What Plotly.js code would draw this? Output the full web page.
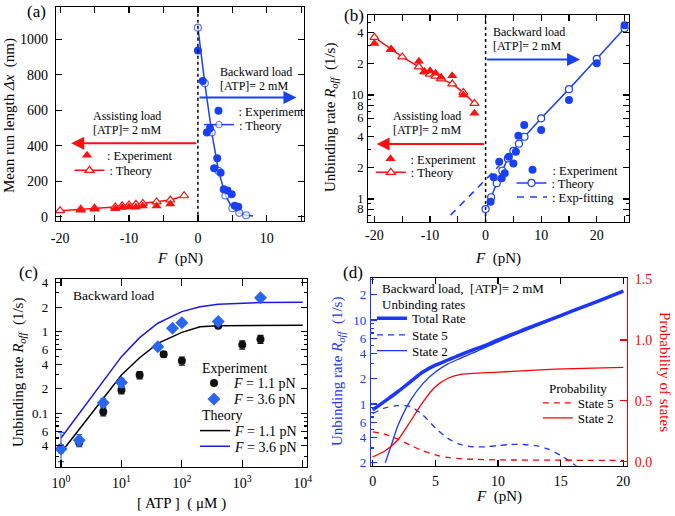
<!DOCTYPE html>
<html><head><meta charset="utf-8">
<script src="https://cdn.plot.ly/plotly-3.0.1.min.js"></script>
<style>html,body{margin:0;padding:0;background:#fff}#chart{width:675px;height:516px}</style>
</head><body><div id="chart"></div>
<script>
// ---------- Panel (a): mean run length vs F ----------
const a_bw_exp_F = [0, 0.7, 1.3, 1.75, 2.35, 2.8, 3.3, 3.75, 4.3, 4.9, 5.35, 5.85];
const a_bw_exp_L = [936, 765, 474, 498, 273, 329, 248, 155, 147, 126, 62, 56];
const a_bw_th_F = [0, 1, 2, 3, 4, 5, 6, 7, 8];
const a_bw_th_L = [1065, 752, 475, 258, 120, 48, 22, 8, 4];
const a_as_th_F = [-20, -17, -15, -12, -11, -10, -9, -8, -6, -4, -2];
const a_as_th_L = [34, 42, 47, 55, 62, 66, 70, 75, 83, 94, 118];
const a_as_exp_F = [-17, -15, -12, -11, -10, -9, -8, -6, -4];
const a_as_exp_L = [36, 42, 45, 52, 55, 53, 60, 60, 72];

// ---------- Panel (b): unbinding rate vs F ----------
const b_bw_th_F = [0, 1, 2, 3, 4, 5, 6, 7, 10, 15, 20, 25];
const b_bw_th_R = [0.80, 1.04, 1.42, 1.87, 2.46, 2.91, 3.4, 3.97, 5.97, 11.4, 22.3, 43.8];
const b_bw_exp_F = [0.9, 1.45, 2.45, 2.9, 3.45, 4.2, 5.0, 5.45, 5.9, 6.95, 10, 15, 20, 25];
const b_bw_exp_R = [0.94, 1.62, 2.28, 1.58, 1.77, 2.55, 2.2, 2.85, 4.06, 5.15, 4.6, 8.95, 20.2, 47];
const b_fit_F = [-6.3, 2.5];
const b_fit_R = [0.70, 2.1];
const b_as_th_F = [-20, -17, -15, -12, -11, -10, -9, -8, -6, -4, -2];
const b_as_th_R = [35.9, 27.5, 23.3, 18.7, 16.7, 15.9, 15.2, 14.3, 12.8, 10.6, 8.3];
const b_as_exp_F = [-20, -17, -12, -11, -10, -9, -8, -6, -4, -2];
const b_as_exp_R = [31.4, 27.5, 21.2, 16.8, 17.1, 16.2, 14.8, 15.3, 10, 6.7];

// ---------- Panel (c): unbinding rate vs [ATP] ----------
const c_exp1_atp = [1, 2, 5, 10, 20, 50, 100, 400, 1000, 2000];
const c_exp1_R   = [0.037, 0.044, 0.105, 0.193, 0.295, 0.53, 0.44, 1.18, 0.69, 0.81];
const c_exp1_err = [0.004, 0.005, 0.012, 0.02, 0.03, 0.04, 0.05, 0.07, 0.08, 0.09];
const c_exp2_atp = [1, 2, 5, 10, 40, 70, 100, 400, 2000];
const c_exp2_R   = [0.0366, 0.047, 0.135, 0.238, 0.656, 1.10, 1.29, 1.33, 2.61];
const c_exp2_errP = [0.022, 0.008, 0.016, 0.03, 0.04, 0.06, 0.06, 0.1, 0.2];
const c_exp2_errM = [0.011, 0.007, 0.014, 0.03, 0.04, 0.06, 0.06, 0.1, 0.2];
const c_th_atp = [1, 2, 5, 10, 20, 40, 100, 200, 400, 1000, 2000, 10000];
const c_th1_R  = [0.033, 0.064, 0.156, 0.295, 0.48, 0.72, 0.98, 1.15, 1.18, 1.19, 1.2, 1.2];
const c_th2_R  = [0.050, 0.10, 0.25, 0.495, 0.845, 1.27, 1.76, 2.02, 2.16, 2.24, 2.27, 2.29];

// ---------- Panel (d): rates and state probabilities vs F ----------
const d_total_F = [0, 1, 2, 3, 4, 5, 6, 7, 8, 9, 10, 12, 14, 16, 18, 20];
const d_total_R = [0.85, 1.09, 1.4, 1.84, 2.4, 2.9, 3.34, 3.85, 4.4, 5.0, 5.8, 7.6, 9.9, 12.9, 16.8, 22];
const d_s2_F = [1, 1.5, 2, 3, 4, 5, 6, 7, 8, 10, 12, 14, 16, 18, 20];
const d_s2_R = [0.2, 0.33, 0.55, 1.1, 1.75, 2.4, 3.0, 3.5, 4.05, 5.5, 7.3, 9.6, 12.7, 16.8, 22];
const d_s5_F = [0, 1, 2, 3, 4, 5, 6, 7, 8, 9, 10, 11, 12, 13, 14, 15, 16, 17];
const d_s5_R = [0.77, 0.90, 0.955, 0.93, 0.74, 0.52, 0.39, 0.33, 0.31, 0.31, 0.32, 0.33, 0.33, 0.32, 0.29, 0.245, 0.195, 0.15];
const d_p2_F = [0, 1, 2, 3, 4, 5, 6, 7, 8, 10, 13, 16, 20];
const d_p2   = [0.04, 0.09, 0.178, 0.33, 0.49, 0.616, 0.685, 0.717, 0.725, 0.735, 0.752, 0.765, 0.775];
const d_p5_F = [0, 1, 2, 3, 4, 5, 6, 7, 8, 10, 15, 20];
const d_p5   = [0.245, 0.225, 0.185, 0.135, 0.09, 0.055, 0.035, 0.025, 0.02, 0.015, 0.012, 0.01];

// ---------- styling / layout ----------
const W = 675, H = 516;
const X = p => p / W, Y = p => 1 - p / H;
const FONT = 'Liberation Serif';
const BLUE = '#1a40f5', RED = '#ff1010', CBLUE = '#2a66f2', DBLUE = '#1a36ff', DRED = '#ff0000';

const traces = [];
// legend helper: one legend per entry, placed by symbol centre / text start / row centre
const legends = {};
let legN = 1;
function legFor(sc, ts, py, size) {
  const key = legN === 1 ? 'legend' : 'legend' + legN;
  legN++;
  const left = ((sc - 20) + (ts - 40)) / 2;
  legends[key] = {x: X(left), y: Y(py), xanchor: 'left', yanchor: 'middle', bgcolor: 'rgba(0,0,0,0)',
    borderwidth: 0, font: {family: FONT, size: size, color: 'black'}, itemwidth: 30, tracegroupgap: 0};
  return key;
}

// Panel (a)
traces.push({x: a_bw_th_F, y: a_bw_th_L, xaxis: 'x', yaxis: 'y', mode: 'lines+markers', name: ': Theory',
  line: {color: BLUE, width: 1.5}, marker: {symbol: 'circle', size: a_bw_th_F.map((f, i) => i < a_bw_th_F.length - 1 ? 7 : 0), color: 'white', line: {color: BLUE, width: 1.2}},
  legend: legFor(223, 235, 125, 12.5)});
traces.push({x: a_bw_exp_F, y: a_bw_exp_L, xaxis: 'x', yaxis: 'y', mode: 'markers', name: ': Experiment',
  marker: {symbol: 'circle', size: 8, color: BLUE}, legend: legFor(224, 233, 111, 12.5)});
traces.push({x: a_as_th_F, y: a_as_th_L, xaxis: 'x', yaxis: 'y', mode: 'lines+markers', name: ': Theory',
  line: {color: RED, width: 1.5}, marker: {symbol: 'triangle-up', size: 8, color: 'white', line: {color: RED, width: 1.2}},
  legend: legFor(93, 106, 170.7, 12.5)});
traces.push({x: a_as_exp_F, y: a_as_exp_L, xaxis: 'x', yaxis: 'y', mode: 'markers', name: ': Experiment',
  marker: {symbol: 'triangle-up', size: 9, color: RED}, legend: legFor(94, 100, 155.7, 12.5)});

// Panel (b)
traces.push({x: b_fit_F, y: b_fit_R, xaxis: 'x2', yaxis: 'y2', mode: 'lines', name: ': Exp-fitting',
  line: {color: BLUE, width: 1.5, dash: '7px,6px'}, legend: legFor(536, 548, 197.3, 12.5)});
traces.push({x: b_bw_th_F, y: b_bw_th_R, xaxis: 'x2', yaxis: 'y2', mode: 'lines+markers', name: ': Theory',
  line: {color: BLUE, width: 1.5}, marker: {symbol: 'circle', size: 7, color: 'white', line: {color: BLUE, width: 1.2}},
  legend: legFor(535, 548, 183.3, 12.5)});
traces.push({x: b_bw_exp_F, y: b_bw_exp_R, xaxis: 'x2', yaxis: 'y2', mode: 'markers', name: ': Experiment',
  marker: {symbol: 'circle', size: 8, color: BLUE}, legend: legFor(536.7, 548.3, 170, 12.5)});
traces.push({x: b_as_th_F, y: b_as_th_R, xaxis: 'x2', yaxis: 'y2', mode: 'lines+markers', name: ': Theory',
  line: {color: RED, width: 1.5}, marker: {symbol: 'triangle-up', size: 8, color: 'white', line: {color: RED, width: 1.2}},
  legend: legFor(395, 406.7, 172.7, 12.5)});
traces.push({x: b_as_exp_F, y: b_as_exp_R, xaxis: 'x2', yaxis: 'y2', mode: 'markers', name: ': Experiment',
  marker: {symbol: 'triangle-up', size: 9, color: RED}, legend: legFor(394.3, 406.7, 159, 12.5)});

// Panel (c)
traces.push({x: c_th_atp, y: c_th1_R, xaxis: 'x3', yaxis: 'y3', mode: 'lines', name: '<i>F</i> = 1.1 pN',
  line: {color: 'black', width: 1.5}, legend: legFor(217, 233, 431, 14)});
traces.push({x: c_th_atp, y: c_th2_R, xaxis: 'x3', yaxis: 'y3', mode: 'lines', name: '<i>F</i> = 3.6 pN',
  line: {color: '#1a1ae6', width: 1.5}, legend: legFor(217, 233, 446.7, 14)});
traces.push({x: c_exp1_atp, y: c_exp1_R, xaxis: 'x3', yaxis: 'y3', mode: 'markers', name: '<i>F</i> = 1.1 pN',
  marker: {symbol: 'circle', size: 8, color: '#111'},
  error_y: {type: 'data', array: c_exp1_err, color: '#111', thickness: 1.2, width: 3},
  legend: legFor(215, 233, 383.3, 14)});
traces.push({x: c_exp2_atp, y: c_exp2_R, xaxis: 'x3', yaxis: 'y3', mode: 'markers', name: '<i>F</i> = 3.6 pN',
  marker: {symbol: 'diamond', size: 10, color: CBLUE},
  error_y: {type: 'data', array: c_exp2_errP, arrayminus: c_exp2_errM, color: CBLUE, thickness: 1.2, width: 3},
  legend: legFor(215, 233, 399.3, 14)});

// Panel (d)
traces.push({x: d_p5_F, y: d_p5, xaxis: 'x4', yaxis: 'y5', mode: 'lines', name: 'State 5',
  line: {color: DRED, width: 1.3, dash: '6px,5px', shape: 'spline', smoothing: 0.8}, legend: legFor(558, 577.7, 403, 13)});
traces.push({x: d_p2_F, y: d_p2, xaxis: 'x4', yaxis: 'y5', mode: 'lines', name: 'State 2',
  line: {color: DRED, width: 1.3, shape: 'spline', smoothing: 0.8}, legend: legFor(558, 577.7, 418, 13)});
traces.push({x: d_total_F, y: d_total_R, xaxis: 'x4', yaxis: 'y4', mode: 'lines', name: 'Total Rate',
  line: {color: DBLUE, width: 3.5, shape: 'spline', smoothing: 0.8}, legend: legFor(393, 411, 318.3, 13)});
traces.push({x: d_s5_F, y: d_s5_R, xaxis: 'x4', yaxis: 'y4', mode: 'lines', name: 'State 5',
  line: {color: DBLUE, width: 1.3, dash: '6px,5px', shape: 'spline', smoothing: 0.8}, legend: legFor(393, 411, 335, 13)});
traces.push({x: d_s2_F, y: d_s2_R, xaxis: 'x4', yaxis: 'y4', mode: 'lines', name: 'State 2',
  line: {color: DBLUE, width: 1.3, shape: 'spline', smoothing: 0.8}, legend: legFor(393, 411, 350.7, 13)});

const tickFont = {family: FONT, size: 14, color: 'black'};
function ax(extra) {
  return Object.assign({showgrid: false, zeroline: false, showline: true, linecolor: 'black', linewidth: 1.2,
    mirror: 'ticks', ticks: 'inside', ticklen: 6, tickwidth: 1.2, tickcolor: 'black', tickfont: tickFont,
    tickmode: 'array', fixedrange: true}, extra);
}
function minor(vals, len, color) {
  return {tickmode: 'array', tickvals: vals, ticks: 'inside', ticklen: len, tickwidth: 1.1, tickcolor: color || 'black', showgrid: false};
}

const layout = {
  width: W, height: H, margin: {l: 0, r: 0, t: 0, b: 0}, paper_bgcolor: 'white', plot_bgcolor: 'white',
  font: {family: FONT, color: 'black'}, showlegend: true,
  xaxis: ax({domain: [X(56), X(304)], range: [-20.6, 15.4], anchor: 'y', tickvals: [-20, -10, 0, 10],
    ticktext: ['-20', '-10', '0', '10'], minor: minor([-15, -5, 5, 15], 6), ticklabelstandoff: 4}),
  yaxis: ax({domain: [Y(220.7), Y(7.3)], range: [-22.6, 1180], anchor: 'x', tickvals: [0, 200, 400, 600, 800, 1000],
    ticklabelstandoff: 4}),
  xaxis2: ax({domain: [X(368.3), X(629)], range: [-21.1, 25.8], anchor: 'y2', tickvals: [-20, -10, 0, 10, 20],
    ticktext: ['-20', '-10', '0', '10', '20'], minor: minor([-15, -5, 5, 15, 25], 6), ticklabelstandoff: 0}),
  yaxis2: ax({domain: [Y(222), Y(15)], type: 'log', range: [-0.221, 1.77], anchor: 'x2',
    tickfont: {family: FONT, size: 12.5, color: 'black'},
    tickvals: [0.8, 1, 2, 4, 6, 8, 10, 20, 40], ticktext: ['8', '1', '2', '4', '6', '8', '10', '2', '4'],
    minor: minor([0.7, 0.9, 3, 5, 7, 9, 30, 50], 3), ticklabelstandoff: 1}),
  xaxis3: ax({domain: [X(56), X(306.7)], type: 'log', range: [-0.083, 4.066], anchor: 'y3',
    tickvals: [1, 10, 100, 1000, 10000],
    ticktext: ['10<sup>0</sup>', '10<sup>1</sup>', '10<sup>2</sup>', '10<sup>3</sup>', '10<sup>4</sup>'], ticklen: 7,
    ticklabelstandoff: 3}),
  yaxis3: ax({domain: [Y(466.7), Y(279)], type: 'log', range: [-1.653, 0.645], anchor: 'x3',
    tickfont: {family: FONT, size: 13, color: 'black'},
    tickvals: [0.04, 0.06, 0.1, 0.2, 0.4, 0.6, 1, 2, 4], ticktext: ['4', '6', '0.1', '2', '4', '6', '1', '2', '4'],
    minor: minor([0.03, 0.05, 0.07, 0.08, 0.09, 0.3, 0.5, 0.7, 0.8, 0.9, 3], 3), ticklabelstandoff: 4}),
  xaxis4: ax({domain: [X(371), X(626.7)], range: [-0.14, 20.27], anchor: 'y4', tickvals: [0, 5, 10, 15, 20],
    ticklabelstandoff: 2}),
  yaxis4: ax({domain: [Y(465.7), Y(278.3)], type: 'log', range: [-0.734, 1.496], anchor: 'x4', mirror: false,
    linecolor: DBLUE, tickcolor: DBLUE, tickfont: {family: FONT, size: 13, color: DBLUE},
    tickvals: [0.2, 0.4, 0.6, 1, 2, 4, 6, 10, 20], ticktext: ['2', '4', '6', '1', '2', '4', '6', '10', '2'],
    minor: minor([0.3, 0.5, 0.7, 0.8, 0.9, 3, 5, 7, 8, 9, 30], 3, DBLUE), ticklabelstandoff: 1}),
  yaxis5: ax({domain: [Y(465.7), Y(278.3)], range: [-0.033, 1.506], anchor: 'x4', overlaying: 'y4', side: 'right',
    mirror: false, linecolor: DRED, tickcolor: DRED, tickfont: {family: FONT, size: 14, color: DRED},
    tickvals: [0, 0.5, 1, 1.5], ticktext: ['0.0', '0.5', '1.0', '1.5'], ticklen: 7, ticklabelstandoff: 4}),
  shapes: [
    {type: 'line', xref: 'x', yref: 'y domain', x0: 0, x1: 0, y0: 0, y1: 1, line: {color: 'black', width: 1.5, dash: 'dot'}},
    {type: 'line', xref: 'x2', yref: 'y2 domain', x0: 0, x1: 0, y0: 0, y1: 1, line: {color: 'black', width: 1.5, dash: 'dot'}}
  ],
  annotations: []
};
Object.assign(layout, legends);

function txt(s, px, py, size, extra) {
  return Object.assign({xref: 'paper', yref: 'paper', x: X(px), y: Y(py), xanchor: 'left', yanchor: 'middle',
    text: s, showarrow: false, font: {family: FONT, size: size, color: 'black'}}, extra || {});
}
function arrow(xr, yr, xh, yh, xt, yt, color) {
  return {xref: xr, yref: yr, axref: xr, ayref: yr, x: xh, y: yh, ax: xt, ay: yt, text: '', showarrow: true,
    arrowhead: 2, arrowsize: 1.3, arrowwidth: 2, arrowcolor: color};
}
const A = layout.annotations;
// panel labels
A.push(txt('(a)', 25, 11.7, 17), txt('(b)', 342, 15, 17), txt('(c)', 17, 272, 17), txt('(d)', 341, 272.5, 17));
// axis titles
A.push(txt('Mean run length <i>Δx</i>  (nm)', 10, 116, 15, {xanchor: 'center', textangle: -90}));
A.push(txt('<i>F</i>  (pN)', 180, 258, 15, {xanchor: 'center'}));
A.push(txt('Unbinding rate <i>R<sub>off</sub></i>  (1/s)', 331, 118, 15, {xanchor: 'center', textangle: -90}));
A.push(txt('<i>F</i>  (pN)', 498, 258, 15, {xanchor: 'center'}));
A.push(txt('Unbinding rate <i>R<sub>off</sub></i>  (1/s)', 19, 373, 15, {xanchor: 'center', textangle: -90}));
A.push(txt('[ ATP ]  ( μM )', 181, 503, 15, {xanchor: 'center'}));
A.push(txt('Unbinding rate <i>R<sub>off</sub></i>  (1/s)', 338, 372, 15, {xanchor: 'center', textangle: -90, font: {family: FONT, size: 15, color: DBLUE}}));
A.push(txt('Probability of states', 665, 372, 15, {xanchor: 'center', textangle: 90, font: {family: FONT, size: 15, color: DRED}}));
A.push(txt('<i>F</i>  (pN)', 499, 496, 15, {xanchor: 'center'}));
// notes
A.push(txt('Backward load', 218, 71.5, 12), txt('[ATP]= 2 mM', 218, 86, 12));
A.push(txt('Assisting load', 91, 116, 12), txt('[ATP]= 2 mM', 91, 130, 12));
A.push(txt('Backward load', 491, 32, 12), txt('[ATP]= 2 mM', 491, 46, 12));
A.push(txt('Assisting load', 391, 116, 12), txt('[ATP]= 2 mM', 391, 130, 12));
A.push(txt('Backward load', 71, 295.7, 13.5));
A.push(txt('Experiment', 200, 368, 14), txt('Theory', 200, 415.7, 14));
A.push(txt('Backward load,  [ATP]= 2 mM', 380, 288.3, 13), txt('Unbinding rates', 380, 304.3, 13));
A.push(txt('Probability', 546.7, 388.3, 13));
// arrows
A.push(arrow('x', 'y', 14.3, 671, 0, 671, BLUE));
A.push(arrow('x', 'y', -18.4, 414, 0, 414, RED));
A.push(arrow('x2', 'y2', 17, Math.log10(22), 0, Math.log10(22), BLUE));
A.push(arrow('x2', 'y2', -19.6, Math.log10(3.38), 0, Math.log10(3.38), RED));

Plotly.newPlot('chart', traces, layout, {displayModeBar: false, staticPlot: true});
</script></body></html>
